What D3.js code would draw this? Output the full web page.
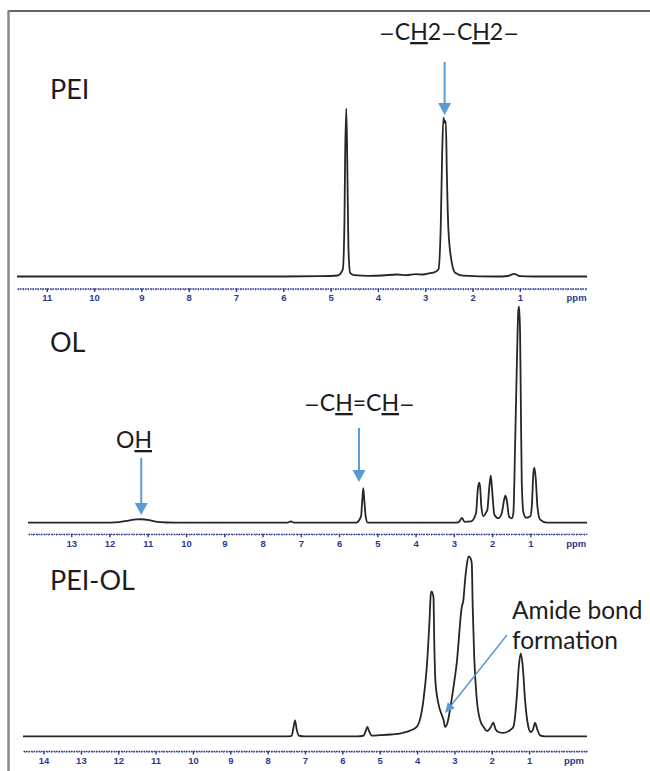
<!DOCTYPE html>
<html><head><meta charset="utf-8">
<script src="https://cdn.jsdelivr.net/npm/d3@7"></script>
<style>body{margin:0;background:#fff}svg{display:block}</style>
</head><body>
<svg id="c" width="650" height="771"></svg>
<script>
// ---------------- data (ppm, relative intensity %) ----------------
const peiTicks = [11,10,9,8,7,6,5,4,3,2,1];
const olTicks = [13,12,11,10,9,8,7,6,5,4,3,2,1];
const peiolTicks = [14,13,12,11,10,9,8,7,6,5,4,3,2,1];

const peiSpectrum = [
  [11.63,0],[6.0,0],[5.2,0.2],[4.85,0.6],[4.742,4.2],[4.708,32],[4.693,71.6],[4.668,100],
  [4.645,61.9],[4.624,18],[4.588,2.2],[4.50,0.8],[4.2,0.4],[3.9,0.6],[3.6,1.2],[3.4,0.8],
  [3.2,1.4],[3.05,1.2],[2.9,2.0],[2.80,2.6],[2.721,4.2],[2.670,32],[2.643,71.6],[2.615,94.5],
  [2.586,91.5],[2.564,92.4],[2.543,61.7],[2.510,28],[2.438,8.2],[2.368,2.2],[2.2,0.5],
  [1.5,0],[1.25,0.3],[1.12,1.6],[1.0,0.2],[0.7,0],[-0.42,0]
];
const olSpectrum = [
  [14.13,0],[12.2,0],[11.75,0.3],[11.5,1.0],[11.3,1.5],[11.15,1.6],[11.0,1.3],[10.8,0.5],
  [10.5,0.1],[10.0,0],[7.35,0],[7.26,0.6],[7.18,0],[5.55,0],[5.427,2.9],[5.393,10.6],
  [5.367,16],[5.341,10.6],[5.304,2.9],[5.252,0],[3.0,0],[2.87,0.3],[2.79,2.2],[2.72,0.4],
  [2.55,0.6],[2.419,4.5],[2.375,15.3],[2.341,18.5],[2.315,16.8],[2.281,7.4],[2.229,3],
  [2.166,4.5],[2.124,6],[2.072,16.8],[2.035,21.8],[2.001,15.3],[1.94,3.7],[1.836,2.1],
  [1.747,4.5],[1.687,10.5],[1.654,12.5],[1.617,10.5],[1.557,2.8],[1.486,2],[1.444,4.5],
  [1.40,35],[1.355,72],[1.313,98.6],[1.295,100],[1.269,88],[1.25,57],[1.225,18.5],
  [1.18,4.6],[1.11,2.3],[1.0,3],[0.963,7.5],[0.921,23],[0.895,25.5],[0.858,20],
  [0.816,7.5],[0.746,1.4],[0.57,0],[-0.48,0]
];
const peiolSpectrum = [
  [14.55,0],[7.5,0],[7.356,0.3],[7.313,4.3],[7.267,8.9],[7.222,3.7],[7.16,0.3],[7.0,0],
  [5.6,0],[5.438,0.3],[5.374,3],[5.331,5.2],[5.286,3],[5.213,0.4],[5.0,0.6],[4.7,1.0],
  [4.4,1.8],[4.2,3],[4.01,5.2],[3.83,20],[3.74,38.3],[3.67,62.8],[3.63,79.4],[3.61,80.5],
  [3.56,77.2],[3.54,53.3],[3.51,31.1],[3.43,18.3],[3.34,12],[3.29,9],[3.25,5.2],[3.18,8],
  [3.12,14.5],[3.02,28],[2.937,40.8],[2.803,71.8],[2.76,75.6],[2.715,86.7],[2.67,95],
  [2.62,100],[2.57,99],[2.535,96.1],[2.51,71.8],[2.47,44.3],[2.40,20.3],[2.31,8.9],
  [2.22,5.2],[2.13,3],[2.09,3.4],[2.03,5],[1.957,7.6],[1.90,4],[1.82,2.4],[1.69,1.9],
  [1.51,3.4],[1.421,5.2],[1.330,21.8],[1.277,38.5],[1.223,46],[1.169,38.5],[1.108,20],
  [1.019,5.2],[0.955,2.4],[0.902,3.4],[0.840,7.4],[0.778,3.7],[0.706,0.5],[0.6,0],[-0.55,0]
];

// ---------------- layout ----------------
const panels = [
  {name:"PEI",    data:peiSpectrum,   ticks:peiTicks,   domain:[11.63,-0.42], range:[17,587], base:276.5, full:168, axisY:288.5, labelY:300.5, titleY:99},
  {name:"OL",     data:olSpectrum,    ticks:olTicks,    domain:[14.13,-0.48], range:[28,587], base:522.7, full:216, axisY:533.8, labelY:547,   titleY:352},
  {name:"PEI-OL", data:peiolSpectrum, ticks:peiolTicks, domain:[14.55,-0.55], range:[23,587], base:736.3, full:180, axisY:751,   labelY:763.5, titleY:590}
];

const svg = d3.select("#c");
const blue = "#5b9bd5";
const axisBlue = "#2e3a8f";
const txt = "#1c1c1c";
const font = "Lato, 'Open Sans', sans-serif";

// frame
svg.append("line").attr("x1",8).attr("x2",650).attr("y1",11).attr("y2",11)
  .attr("stroke","#333").attr("stroke-width",1.5);
svg.append("line").attr("x1",8.5).attr("x2",8.5).attr("y1",10.5).attr("y2",771)
  .attr("stroke","#8a8a8a").attr("stroke-width",2.5);

const scales = {};
panels.forEach(p => {
  const x = d3.scaleLinear().domain(p.domain).range(p.range);
  const y = d3.scaleLinear().domain([0,100]).range([p.base, p.base - p.full]);
  scales[p.name] = {x, y};
  const g = svg.append("g");

  // spectrum
  g.append("path").datum(p.data)
    .attr("d", d3.line().x(d=>x(d[0])).y(d=>y(d[1])).curve(d3.curveMonotoneX))
    .attr("fill","none").attr("stroke","#262626").attr("stroke-width",1.8)
    .attr("stroke-linejoin","round");

  // minor ticks
  const lo = Math.min(...p.domain), hi = Math.max(...p.domain);
  const minor = d3.range(Math.ceil(lo*10), Math.floor(hi*10)+1).map(v=>v/10);
  const gm = g.append("g").attr("transform",`translate(0,${p.axisY})`)
    .call(d3.axisBottom(x).tickValues(minor).tickSize(2).tickSizeOuter(0).tickFormat(""));
  gm.select(".domain").attr("stroke",axisBlue).attr("stroke-width",1.3).attr("stroke-dasharray","1.6,0.9");
  gm.selectAll(".tick line").attr("stroke",axisBlue).attr("stroke-width",0.8).attr("opacity",0.8);

  // major ticks + labels
  const ga = g.append("g").attr("transform",`translate(0,${p.axisY})`)
    .call(d3.axisBottom(x).tickValues(p.ticks).tickSize(3.5).tickSizeOuter(0).tickFormat(d3.format("d")));
  ga.select(".domain").remove();
  ga.selectAll(".tick line").attr("stroke",axisBlue).attr("stroke-width",1.4);
  ga.selectAll(".tick text").attr("y", p.labelY - p.axisY).attr("dy",null)
    .attr("fill",axisBlue).attr("font-family","'Liberation Sans', Arial, sans-serif")
    .attr("font-weight","bold").attr("font-size",9.5);
  g.append("text").attr("x", x(-0.2)).attr("y", p.labelY).attr("text-anchor","middle")
    .attr("fill",axisBlue).attr("font-family","'Liberation Sans', Arial, sans-serif")
    .attr("font-weight","bold").attr("font-size",9.5).text("ppm");

  // title
  g.append("text").attr("x",50).attr("y",p.titleY).attr("fill",txt)
    .attr("font-family",font).attr("font-size",27).text(p.name);
});

// annotation helpers: parts = [text, underline, isDash]
function chem(x, y, parts, size) {
  const t = svg.append("text").attr("x",x).attr("y",y).attr("fill",txt)
    .attr("font-family",font).attr("font-size",size);
  parts.forEach(([s,u,dash]) => {
    const ts = t.append("tspan").text(s);
    if (u) ts.style("text-decoration","underline");
    if (dash) ts.attr("font-family","'DejaVu Sans', sans-serif").attr("font-size",size*0.82);
  });
  return t;
}
function arrow(x1,y1,x2,y2,w,hl,hw) {
  const ang = Math.atan2(y2-y1, x2-x1);
  const bx = x2 - hl*Math.cos(ang), by = y2 - hl*Math.sin(ang);
  svg.append("line").attr("x1",x1).attr("y1",y1).attr("x2",bx).attr("y2",by)
    .attr("stroke",blue).attr("stroke-width",w);
  const px = -Math.sin(ang)*hw/2, py = Math.cos(ang)*hw/2;
  svg.append("path").attr("d",`M${x2},${y2}L${bx+px},${by+py}L${bx-px},${by-py}Z`).attr("fill",blue);
}

const sP = scales["PEI"], sO = scales["OL"], sPO = scales["PEI-OL"];
const M = "\u2212";
// PEI: -CH2-CH2-
chem(379, 40, [[M,0,1],["C",0],["H",1],["2",0],[M,0,1],["C",0],["H",1],["2",0],[M,0,1]], 23);
arrow(sP.x(2.59), 62, sP.x(2.59), 115, 2, 12, 13);

// OL: -CH=CH-
chem(304, 411, [[M,0,1],["C",0],["H",1],["=C",0],["H",1],[M,0,1]], 23);
arrow(sO.x(5.48), 428, sO.x(5.48), 482, 2, 12, 13);

// OL: OH
chem(116, 448, [["O",0],["H",1]], 23);
arrow(sO.x(11.17), 458, sO.x(11.17), 515, 2, 12, 13);

// PEI-OL: Amide bond formation
svg.append("text").attr("x",512).attr("y",619).attr("fill",txt).attr("font-family",font)
  .attr("font-size",24.5).text("Amide bond");
svg.append("text").attr("x",512).attr("y",649).attr("fill",txt).attr("font-family",font)
  .attr("font-size",24.5).text("formation");
arrow(507, 635, sPO.x(3.25), 713, 1.5, 10, 9);
</script>
</body></html>
